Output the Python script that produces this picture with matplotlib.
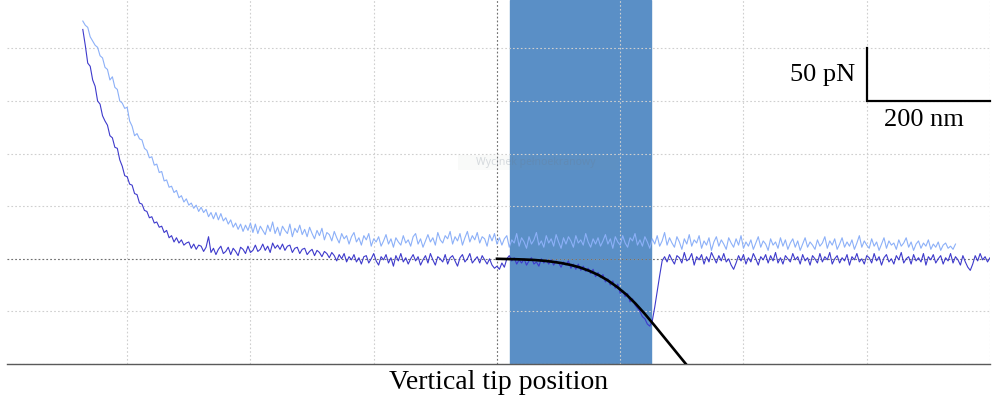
import numpy as np
import matplotlib
matplotlib.use("Agg")
import matplotlib.pyplot as plt
from matplotlib.patches import Rectangle

# Force–distance traces (x: vertical tip position in nm, y: force in pN)
# sampled every 4 nm starting at -72 nm
trace_start_nm = -72
trace_step_nm = 4

approach_force = [
    218, 203, 186, 183, 170, 164, 150, 147, 136, 131,
    127, 117, 115, 106, 105, 94, 88, 79, 78, 71,
    70, 62, 61, 53, 52, 46, 45, 39, 40, 34,
    35, 30, 31, 25, 27, 20, 22, 16, 20, 15,
    18, 13, 15, 16, 10, 14, 9, 13, 12, 7,
    11, 21, 6, 10, 4, 9, 12, 5, 7, 11,
    4, 10, 7, 3, 11, 9, 5, 12, 6, 8,
    13, 7, 9, 14, 8, 12, 6, 15, 10, 13,
    9, 14, 8, 12, 13, 6, 10, 11, 5, 9,
    10, 4, 7, 9, 3, 8, 6, 2, 7, 5,
    1, 6, 3, -2, 4, 0, 5, -3, 2, -1,
    4, -3, 1, -5, 2, 3, -4, 0, 5, -2,
    -6, 2, -1, 4, -4, 1, -7, 3, -2, 5,
    -3, 1, -5, 0, 4, -2, 2, -6, -1, 3,
    -4, 5, -1, -6, 2, 0, -3, 4, -5, 1,
    3, -2, -7, 1, 4, -3, 0, 5, -4, -1,
    2, -4, 3, -1, -5, 0, -6, -9, -7, -10,
    -4, -8, 0, 3, -2, 1, -5, -1, -4, 0,
    -6, -2, 1, -5, -3, -7, 0, -4, -1, -5,
    -1, -6, -2, -4, -8, -3, -6, -2, -9, -5,
    -10, -5, -11, -7, -12, -9, -14, -10, -17, -13,
    -18, -15, -22, -19, -25, -21, -28, -24, -33, -30,
    -36, -33, -41, -38, -44, -47, -50, -55, -57, -62,
    -64, -59, -46, -31, -16, -2, 2, -3, 4, -1,
    -5, 3, 1, -4, 6, -2, 0, 5, -6, 2,
    -1, 4, -5, 2, -3, 6, 1, -4, 3, -2,
    5, -3, 0, -6, -10, -4, 3, -2, 4, -5,
    1, -3, 5, 0, -6, 2, -1, 4, -4, 3,
    -2, 6, -4, 1, -5, 3, 0, -3, 5, -1,
    2, -5, 4, -2, 1, -6, 3, 0, -4, 5,
    -3, 2, -1, 6, -5, 0, 3, -4, 1, -2,
    4, -6, 2, -1, 5, -3, 0, -5, 3, 1,
    -4, 5, -2, 2, -6, 1, 4, -3, 0, -5,
    3, -1, 6, -4, 0, 2, -5, 4, -2, 1,
    -3, 5, -6, 2, -1, 4, -4, 0, 3, -5,
    1, -2, 5, -4, 2, -1, -6, 3, -3, -8,
    -11, -5, 3, -2, 5, -1, 2, -3, 1,
]

retract_force = [
    226, 222, 220, 211, 207, 203, 201, 193, 191, 182,
    180, 170, 173, 163, 161, 150, 148, 143, 144, 131,
    126, 117, 119, 114, 113, 105, 103, 96, 97, 89,
    90, 82, 83, 74, 75, 68, 69, 63, 65, 58,
    60, 54, 57, 51, 53, 48, 51, 45, 49, 44,
    47, 40, 44, 38, 44, 37, 43, 36, 39, 33,
    37, 30, 34, 28, 33, 26, 32, 27, 34, 25,
    33, 24, 31, 27, 23, 32, 26, 35, 24, 30,
    22, 31, 27, 24, 33, 21, 29, 25, 32, 23,
    28, 21, 30, 24, 19, 27, 22, 29, 18, 25,
    23, 17, 26, 20, 15, 24, 19, 22, 14, 21,
    25, 16, 20, 13, 22, 18, 24, 12, 19, 16,
    21, 12, 17, 23, 14, 19, 11, 20, 16, 13,
    22, 15, 18, 12, 21, 24, 14, 19, 11, 17,
    23, 16, 20, 13, 25, 18, 15, 22, 19, 26,
    14, 21, 17, 24, 13, 20, 26, 16, 22, 18,
    25, 15, 21, 19, 12, 23, 17, 24, 14, 20,
    13, 19, 22, 11, 18, 15, 24, 12, 20, 16,
    10, 21, 14, 18, 25, 13, 17, 11, 22, 15,
    19, 12, 23, 16, 10, 20, 14, 21, 17, 11,
    22, 15, 18, 13, 24, 16, 11, 19, 14, 20,
    12, 17, 23, 14, 19, 10, 21, 16, 13, 22,
    15, 11, 20, 17, 24, 13, 18, 12, 21, 16,
    10, 19, 14, 22, 12, 17, 25, 13, 20, 15,
    11, 21, 16, 9, 19, 14, 23, 12, 18, 15,
    22, 10, 17, 13, 20, 8, 16, 21, 12, 18,
    14, 9, 20, 15, 11, 19, 13, 22, 10, 16,
    12, 18, 9, 15, 21, 11, 17, 14, 8, 19,
    13, 16, 10, 20, 12, 18, 9, 15, 19, 11,
    17, 8, 14, 20, 11, 16, 13, 9, 18, 12,
    15, 21, 10, 17, 13, 19, 9, 14, 20, 11,
    16, 12, 18, 9, 15, 22, 11, 17, 13, 10,
    19, 12, 16, 8, 14, 20, 10, 17, 13, 15,
    9, 18, 12, 15, 20, 11, 16, 8, 14, 17,
    10, 15, 12, 18, 9, 14, 11, 16, 8, 13,
    15, 10, 12, 9, 14,
]

# Model fit over the contact region
fit_x = [600, 615, 630, 645, 660, 675, 690, 705, 720, 735, 750,
         765, 780, 795, 810, 825, 840, 855, 870, 885, 900, 915]
fit_y = [0, -0.2, -0.4, -0.7, -1.1, -1.8, -2.8, -4.1, -5.9, -8.3, -11.5,
         -15.5, -20.6, -26.8, -34.0, -42.7, -52.4, -62.9, -73.7, -84.5, -95.3, -106.1]

# Highlighted interval and contact point
band_start, band_end = 621, 850
contact_x = 600

# Scale bar
bar_x0, bar_y0 = 1200, 150
bar_len_nm, bar_len_pn = 200, 50

approach_x = trace_start_nm + trace_step_nm * np.arange(len(approach_force))
retract_x = trace_start_nm + trace_step_nm * np.arange(len(retract_force))

plt.rcParams["font.family"] = ["Liberation Serif", "DejaVu Serif"]

fig = plt.figure(figsize=(9.93, 4.0), dpi=100)
ax = fig.add_axes([7 / 993, 36 / 400, 983 / 993, 364 / 400])
ax.set_xlim(-195, 1400)
ax.set_ylim(-100, 246)

ax.set_xticks(np.arange(0, 1401, 200))
ax.set_yticks(np.arange(-100, 201, 50))
ax.tick_params(length=0, labelbottom=False, labelleft=False)
ax.set_axisbelow("line")
ax.grid(True, color="#cfcfcf", linewidth=0.8, linestyle=(0, (1.5, 2)))

for side in ("top", "right", "left"):
    ax.spines[side].set_visible(False)
ax.spines["bottom"].set_color("#5a5a5a")
ax.spines["bottom"].set_linewidth(1.0)

ax.axvspan(band_start, band_end, color="#5a8fc6", zorder=1)

ax.axhline(0, color="#707070", linewidth=0.8, linestyle=(0, (1.5, 2)), zorder=1.6)
ax.axvline(contact_x, color="#707070", linewidth=0.8, linestyle=(0, (1.5, 2)), zorder=1.6)

# faint snipping-tool overlay
ax.add_patch(Rectangle((537, 84.6), 261, 14.3, facecolor="#9aa59a", alpha=0.05,
                       edgecolor="none", zorder=1.7))
ax.text(663, 91.5, "Wycinek pełnoekranowy", family=["Noto Sans", "DejaVu Sans"],
        fontsize=7.5, color="#6a7a8a", alpha=0.25, ha="center", va="center", zorder=1.8)

ax.plot(retract_x, retract_force, color="#8cb0f8", linewidth=0.8, zorder=2)
ax.plot(approach_x, approach_force, color="#3e3acc", linewidth=0.8, zorder=2.1)
ax.plot(fit_x, fit_y, color="black", linewidth=1.9, zorder=3,
        solid_joinstyle="round")

# scale bar
ax.plot([bar_x0, bar_x0, bar_x0 + bar_len_nm],
        [bar_y0 + bar_len_pn, bar_y0, bar_y0], color="black", linewidth=1.6,
        solid_joinstyle="miter", clip_on=False, zorder=4)
ax.text(bar_x0 - 18, bar_y0 + bar_len_pn / 2, f"{bar_len_pn} pN", fontsize=19,
        ha="right", va="center")
ax.text(bar_x0 + bar_len_nm / 2 - 7, bar_y0 - 18, f"{bar_len_nm} nm", fontsize=19,
        ha="center", va="center")

ax.set_xlabel("Vertical tip position", fontsize=20, labelpad=4)

fig.savefig("out.png", dpi=100)
